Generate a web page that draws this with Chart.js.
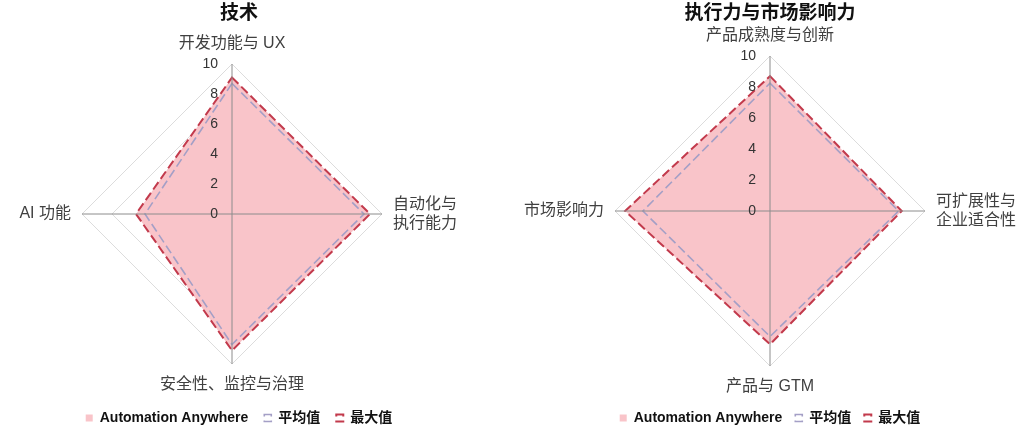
<!DOCTYPE html>
<html>
<head>
<meta charset="utf-8">
<script src="https://cdn.jsdelivr.net/npm/chart.js@4.4.0/dist/chart.umd.min.js"></script>
<style>
  html, body { margin: 0; padding: 0; background: #fff; overflow: hidden; }
  .panel { position: absolute; top: 0; height: 435px; }
  #left { left: 0; width: 517px; }
  #right { left: 517px; width: 517px; }
</style>
</head>
<body>
<div class="panel" id="left"><canvas id="techChart"></canvas></div>
<div class="panel" id="right"><canvas id="execChart"></canvas></div>
<script>
// Data
const seriesNames = ['Automation Anywhere', '平均值', '最大值'];
const tickValues = [0, 2, 4, 6, 8, 10];

const techLabels = ['开发功能与 UX', ['自动化与', '执行能力'], '安全性、监控与治理', 'AI 功能'];
const techAA = [9.1, 9.2, 9.1, 6.4];
const techAvg = [8.7, 8.8, 8.7, 5.8];
const techMax = [9.1, 9.2, 9.1, 6.4];

const execLabels = ['产品成熟度与创新', ['可扩展性与', '企业适合性'], '产品与 GTM', '市场影响力'];
const execAA = [8.7, 8.5, 8.6, 9.35];
const execAvg = [8.25, 8.3, 8.1, 8.2];
const execMax = [8.7, 8.5, 8.6, 9.35];

const FONT = '"Liberation Sans", "Noto Sans CJK SC", sans-serif';

// axis cross + tick labels drawn above the fill
const overlay = {
  id: 'overlay',
  afterDatasetsDraw(chart) {
    const r = chart.scales.r;
    const ctx = chart.ctx;
    ctx.save();
    ctx.strokeStyle = '#8c8c8c';
    ctx.lineWidth = 1;
    for (let i = 0; i < chart.data.labels.length; i++) {
      const p = r.getPointPosition(i, r.getDistanceFromCenterForValue(r.max));
      ctx.beginPath();
      ctx.moveTo(r.xCenter, r.yCenter);
      ctx.lineTo(p.x, p.y);
      ctx.stroke();
    }
    ctx.fillStyle = '#333';
    ctx.font = '14px ' + FONT;
    ctx.textAlign = 'right';
    ctx.textBaseline = 'middle';
    r.ticks.forEach((t) => {
      ctx.fillText(t.label, r.xCenter - 14, r.yCenter - r.getDistanceFromCenterForValue(t.value));
    });
    ctx.restore();
  }
};

function makeChart(id, title, labels, aa, avg, max, pad) {
  return new Chart(document.getElementById(id), {
    type: 'radar',
    data: {
      labels,
      datasets: [
        { label: seriesNames[0], data: aa, backgroundColor: '#f9c4c9', borderColor: '#f9c4c9', borderWidth: 0, fill: true, order: 3 },
        { label: seriesNames[1], data: avg, backgroundColor: 'transparent', borderColor: '#a49fc6', borderWidth: 1.6, borderDash: [9, 4], fill: false, order: 2 },
        { label: seriesNames[2], data: max, backgroundColor: 'transparent', borderColor: '#c23a4c', borderWidth: 2, borderDash: [9, 4], fill: false, order: 1 }
      ]
    },
    options: {
      responsive: true,
      maintainAspectRatio: false,
      animation: false,
      elements: { point: { radius: 0, hoverRadius: 0 }, line: { tension: 0 } },
      layout: { padding: pad.layout },
      plugins: {
        title: {
          display: true, text: title, color: '#111',
          font: { family: FONT, size: 19, weight: 'bold' },
          padding: { top: 2, bottom: pad.title }
        },
        legend: {
          position: 'bottom',
          labels: {
            color: '#111', boxWidth: 7, boxHeight: 7, padding: pad.legend,
            font: { family: FONT, size: 14, weight: 'bold' },
            sort: (a, b) => a.datasetIndex - b.datasetIndex
          }
        },
        tooltip: { enabled: false }
      },
      scales: {
        r: {
          min: 0, max: 10,
          ticks: { stepSize: 2, display: false },
          grid: { color: '#dcdcdc', lineWidth: 1 },
          angleLines: { display: false },
          pointLabels: {
            color: '#404040', padding: pad.point,
            font: { family: FONT, size: 16 }
          }
        }
      }
    },
    plugins: [overlay]
  });
}

makeChart('techChart', '技术', techLabels, techAA, techAvg, techMax,
  { layout: { left: 0, right: 39, top: 0, bottom: 0 }, title: 9, legend: 16, point: 11 });
makeChart('execChart', '执行力与市场影响力', execLabels, execAA, execAvg, execMax,
  { layout: { left: 0, right: 11, top: 0, bottom: 0 }, title: 1, legend: 13, point: 11 });
</script>
</body>
</html>
